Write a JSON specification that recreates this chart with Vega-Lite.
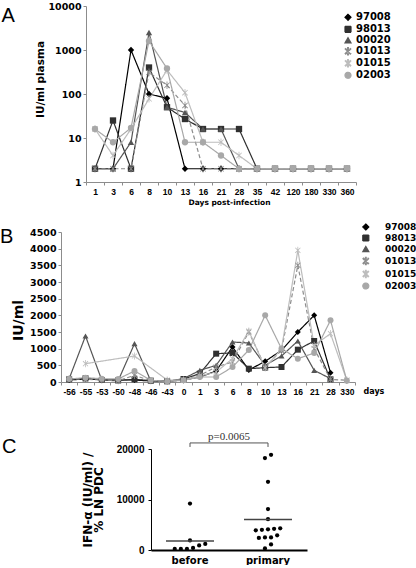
{
  "$schema": "https://vega.github.io/schema/vega-lite/v6.json",
  "background": "white",
  "padding": {"left": 0, "top": 1, "right": 0, "bottom": 0},
  "config": {
    "view": {"stroke": null},
    "font": "DejaVu Sans",
    "title": {"anchor": "start", "frame": "group", "font": "Liberation Sans", "fontSize": 20, "fontWeight": "normal", "color": "#000", "baseline": "top"},
    "axis": {"grid": false, "labelFont": "DejaVu Sans", "labelFontWeight": "bold", "labelColor": "#000", "titleFont": "DejaVu Sans", "titleFontWeight": "bold", "titleColor": "#000", "domainColor": "#8c8c8c", "tickColor": "#8c8c8c", "tickSize": 3, "labelFontSize": 9.5, "labelPadding": 2, "labelOverlap": false},
    "axisX": {"labelAngle": 0}
  },
  "datasets": {
    "a": [
      {"id":"97008","day":"1","v":2},{"id":"97008","day":"3","v":2},{"id":"97008","day":"6","v":1000},{"id":"97008","day":"8","v":100},{"id":"97008","day":"10","v":80},{"id":"97008","day":"13","v":2},{"id":"97008","day":"16","v":2},{"id":"97008","day":"21","v":2},{"id":"97008","day":"28","v":2},{"id":"97008","day":"35","v":2},{"id":"97008","day":"42","v":2},{"id":"97008","day":"120","v":2},{"id":"97008","day":"180","v":2},{"id":"97008","day":"330","v":2},{"id":"97008","day":"360","v":2},
      {"id":"98013","day":"1","v":2},{"id":"98013","day":"3","v":25},{"id":"98013","day":"6","v":2},{"id":"98013","day":"8","v":400},{"id":"98013","day":"10","v":50},{"id":"98013","day":"13","v":27},{"id":"98013","day":"16","v":16},{"id":"98013","day":"21","v":16},{"id":"98013","day":"28","v":16},{"id":"98013","day":"35","v":2},{"id":"98013","day":"42","v":2},{"id":"98013","day":"120","v":2},{"id":"98013","day":"180","v":2},{"id":"98013","day":"330","v":2},{"id":"98013","day":"360","v":2},
      {"id":"00020","day":"1","v":2},{"id":"00020","day":"3","v":2},{"id":"00020","day":"6","v":8},{"id":"00020","day":"8","v":2500},{"id":"00020","day":"10","v":50},{"id":"00020","day":"13","v":38},{"id":"00020","day":"16","v":16},{"id":"00020","day":"21","v":16},{"id":"00020","day":"28","v":2},{"id":"00020","day":"35","v":2},{"id":"00020","day":"42","v":2},{"id":"00020","day":"120","v":2},{"id":"00020","day":"180","v":2},{"id":"00020","day":"330","v":2},{"id":"00020","day":"360","v":2},
      {"id":"01013","day":"1","v":2},{"id":"01013","day":"3","v":2},{"id":"01013","day":"6","v":2},{"id":"01013","day":"8","v":310},{"id":"01013","day":"10","v":158},{"id":"01013","day":"13","v":55},{"id":"01013","day":"16","v":2},{"id":"01013","day":"21","v":2},{"id":"01013","day":"28","v":2},{"id":"01013","day":"35","v":2},{"id":"01013","day":"42","v":2},{"id":"01013","day":"120","v":2},{"id":"01013","day":"180","v":2},{"id":"01013","day":"330","v":2},{"id":"01013","day":"360","v":2},
      {"id":"01015","day":"1","v":16},{"id":"01015","day":"3","v":4},{"id":"01015","day":"6","v":16},{"id":"01015","day":"8","v":78},{"id":"01015","day":"10","v":350},{"id":"01015","day":"13","v":107},{"id":"01015","day":"16","v":8},{"id":"01015","day":"21","v":8},{"id":"01015","day":"28","v":4},{"id":"01015","day":"35","v":2},{"id":"01015","day":"42","v":2},{"id":"01015","day":"120","v":2},{"id":"01015","day":"180","v":2},{"id":"01015","day":"330","v":2},{"id":"01015","day":"360","v":2},
      {"id":"02003","day":"1","v":16},{"id":"02003","day":"3","v":8},{"id":"02003","day":"6","v":17},{"id":"02003","day":"8","v":1600},{"id":"02003","day":"10","v":380},{"id":"02003","day":"13","v":8},{"id":"02003","day":"16","v":8},{"id":"02003","day":"21","v":4},{"id":"02003","day":"28","v":2},{"id":"02003","day":"35","v":2},{"id":"02003","day":"42","v":2},{"id":"02003","day":"120","v":2},{"id":"02003","day":"180","v":2},{"id":"02003","day":"330","v":2},{"id":"02003","day":"360","v":2}
    ],
    "b": [
      {"id":"97008","day":"-56","v":60},{"id":"97008","day":"-55","v":90},{"id":"97008","day":"-53","v":70},{"id":"97008","day":"-50","v":60},{"id":"97008","day":"-48","v":60},{"id":"97008","day":"-46","v":30},{"id":"97008","day":"-43","v":20},{"id":"97008","day":"0","v":60},{"id":"97008","day":"1","v":150},{"id":"97008","day":"3","v":330},{"id":"97008","day":"6","v":1050},{"id":"97008","day":"8","v":360},{"id":"97008","day":"10","v":620},{"id":"97008","day":"13","v":950},{"id":"97008","day":"16","v":1500},{"id":"97008","day":"21","v":2000},{"id":"97008","day":"28","v":280},
      {"id":"98013","day":"-56","v":80},{"id":"98013","day":"-55","v":110},{"id":"98013","day":"-53","v":60},{"id":"98013","day":"-50","v":50},{"id":"98013","day":"-48","v":80},{"id":"98013","day":"-46","v":40},{"id":"98013","day":"-43","v":20},{"id":"98013","day":"0","v":90},{"id":"98013","day":"1","v":250},{"id":"98013","day":"3","v":850},{"id":"98013","day":"6","v":870},{"id":"98013","day":"8","v":400},{"id":"98013","day":"10","v":430},{"id":"98013","day":"13","v":450},{"id":"98013","day":"16","v":970},{"id":"98013","day":"21","v":1230},{"id":"98013","day":"28","v":80},
      {"id":"00020","day":"-56","v":100},{"id":"00020","day":"-55","v":1380},{"id":"00020","day":"-53","v":50},{"id":"00020","day":"-50","v":40},{"id":"00020","day":"-48","v":1150},{"id":"00020","day":"-46","v":30},{"id":"00020","day":"-43","v":20},{"id":"00020","day":"0","v":100},{"id":"00020","day":"1","v":350},{"id":"00020","day":"3","v":500},{"id":"00020","day":"6","v":1200},{"id":"00020","day":"8","v":1170},{"id":"00020","day":"10","v":500},{"id":"00020","day":"13","v":780},{"id":"00020","day":"16","v":1230},{"id":"00020","day":"21","v":350},{"id":"00020","day":"28","v":100},
      {"id":"01013","day":"-56","v":100},{"id":"01013","day":"-55","v":80},{"id":"01013","day":"-53","v":60},{"id":"01013","day":"-50","v":40},{"id":"01013","day":"-48","v":200},{"id":"01013","day":"-46","v":40},{"id":"01013","day":"-43","v":30},{"id":"01013","day":"0","v":60},{"id":"01013","day":"1","v":200},{"id":"01013","day":"3","v":450},{"id":"01013","day":"6","v":600},{"id":"01013","day":"8","v":1500},{"id":"01013","day":"10","v":450},{"id":"01013","day":"13","v":950},{"id":"01013","day":"16","v":3500},{"id":"01013","day":"21","v":1000},{"id":"01013","day":"28","v":80},{"id":"01013","day":"330","v":50},
      {"id":"01015","day":"-55","v":550},{"id":"01015","day":"-48","v":780},{"id":"01015","day":"-43","v":60},{"id":"01015","day":"0","v":50},{"id":"01015","day":"1","v":180},{"id":"01015","day":"3","v":300},{"id":"01015","day":"6","v":700},{"id":"01015","day":"8","v":1530},{"id":"01015","day":"10","v":420},{"id":"01015","day":"13","v":1000},{"id":"01015","day":"16","v":3950},{"id":"01015","day":"21","v":1100},{"id":"01015","day":"28","v":1450},{"id":"01015","day":"330","v":50},
      {"id":"02003","day":"-56","v":90},{"id":"02003","day":"-55","v":130},{"id":"02003","day":"-53","v":100},{"id":"02003","day":"-50","v":90},{"id":"02003","day":"-48","v":330},{"id":"02003","day":"-46","v":50},{"id":"02003","day":"-43","v":20},{"id":"02003","day":"0","v":50},{"id":"02003","day":"1","v":150},{"id":"02003","day":"3","v":150},{"id":"02003","day":"6","v":450},{"id":"02003","day":"8","v":960},{"id":"02003","day":"10","v":2000},{"id":"02003","day":"13","v":1000},{"id":"02003","day":"16","v":700},{"id":"02003","day":"21","v":870},{"id":"02003","day":"28","v":1850},{"id":"02003","day":"330","v":40}
    ],
    "c": [
      {"g":"before","v":9200},{"g":"before","v":1900},{"g":"before","v":900},{"g":"before","v":200},{"g":"before","v":200},{"g":"before","v":200},{"g":"before","v":400},{"g":"before","v":1200},
      {"g":"primary","v":18200},{"g":"primary","v":18850},{"g":"primary","v":13500},{"g":"primary","v":8100},{"g":"primary","v":6100},{"g":"primary","v":4300},{"g":"primary","v":4100},{"g":"primary","v":3900},{"g":"primary","v":4000},{"g":"primary","v":4200},{"g":"primary","v":2900},{"g":"primary","v":2500},{"g":"primary","v":2400},{"g":"primary","v":2500},{"g":"primary","v":1100},{"g":"primary","v":300}
    ]
  },
  "columns": 1,
  "align": "none",
  "spacing": 34,
  "resolve": {"scale": {"color": "independent", "shape": "independent", "strokeDash": "independent"}, "legend": {"color": "independent", "shape": "independent", "strokeDash": "independent"}},
  "concat": [
    {
      "columns": 1,
      "align": "none",
      "spacing": 16,
      "resolve": {"scale": {"color": "independent", "shape": "independent", "strokeDash": "independent"}, "legend": {"color": "independent", "shape": "independent", "strokeDash": "independent"}},
      "concat": [
        {
          "width": 295,
          "height": 176,
          "data": {"name": "a"},
          "title": {"text": "A", "dx": -59.5, "offset": -25},
          "encoding": {
            "x": {"field": "day", "type": "ordinal", "sort": ["1","3","6","8","10","13","16","21","28","35","42","120","180","330","360"], "scale": {"type": "band", "paddingInner": 0, "paddingOuter": 0, "range": [25, 295]},
                  "axis": {"title": "Days post-infection", "tickBand": "extent", "labelFont": "Liberation Sans", "labelFontSize": 8.5, "labelPadding": 2, "titleFontSize": 7.5, "titlePadding": 3, "titleX": 168}},
            "y": {"field": "v", "type": "quantitative", "scale": {"type": "log", "domain": [1, 10000], "nice": false},
                  "axis": {"offset": -25, "values": [1, 10, 100, 1000, 10000], "format": "d", "title": "IU/ml plasma", "titleFontSize": 10.5, "titlePadding": 2, "titleY": 73}},
            "color": {"field": "id", "type": "nominal", "scale": {"domain": ["97008","98013","00020","01013","01015","02003"], "range": ["#000000","#303030","#555555","#8c8c8c","#bdbdbd","#a8a8a8"]},
              "legend": {"title": null, "orient": "none", "legendX": 279, "legendY": 6.3, "direction": "vertical", "padding": 0, "symbolSize": 36, "rowPadding": 0, "symbolOffset": 3, "labelOffset": 3, "labelFontSize": 10, "labelFont": "DejaVu Sans", "labelFontWeight": "bold", "labelColor": "#000",
                "encode": {"symbols": {"update": {
                  "shape": {"signal": "datum.value=='97008'?'M-2,0L2,0M0,-1.1L1,0L0,1.1L-1,0Z':datum.value=='98013'?'M-2,0L2,0M-1,-1L1,-1L1,1L-1,1Z':datum.value=='00020'?'M-2,0L2,0M0,-1.2L1.1,0.8L-1.1,0.8Z':datum.value=='02003'?'M-2,0L2,0M1,0A1,1 0 1,1 -1,0A1,1 0 1,1 1,0Z':'M-2,0L2,0M0,-1.2L0,1.2M-0.9,-0.9L0.9,0.9M-0.9,0.9L0.9,-0.9'"},
                  "fill": {"signal": "datum.value=='97008'?'#000000':datum.value=='98013'?'#303030':datum.value=='00020'?'#555555':datum.value=='01013'?'#8c8c8c':datum.value=='01015'?'#bdbdbd':'#a8a8a8'"},
                  "stroke": {"signal": "datum.value=='97008'?'#000000':datum.value=='98013'?'#303030':datum.value=='00020'?'#555555':datum.value=='01013'?'#8c8c8c':datum.value=='01015'?'#bdbdbd':'#a8a8a8'"},
                  "strokeDash": {"signal": "datum.value=='01013'?[3,2]:[1,0]"},
                  "strokeWidth": {"value": 1.2},
                  "opacity": {"value": 1}
                }}}}}
          },
          "layer": [
            {"mark": {"type": "line", "strokeWidth": 1.2},
             "encoding": {"strokeDash": {"field": "id", "type": "nominal", "scale": {"domain": ["97008","98013","00020","01013","01015","02003"], "range": [[1,0],[1,0],[1,0],[4,2.5],[1,0],[1,0]]}, "legend": null}}},
            {"mark": {"type": "point", "filled": true, "opacity": 1, "size": 40},
             "encoding": {
               "shape": {"field": "id", "type": "nominal", "scale": {"domain": ["97008","98013","00020","01013","01015","02003"], "range": ["diamond","square","triangle-up","M-0.13,-1.2L0.13,-1.2L0.13,1.2L-0.13,1.2ZM-0.76,-0.94L0.94,0.76L0.76,0.94L-0.94,-0.76ZM-0.94,0.76L0.76,-0.94L0.94,-0.76L-0.76,0.94Z","M-0.13,-1.2L0.13,-1.2L0.13,1.2L-0.13,1.2ZM-0.76,-0.94L0.94,0.76L0.76,0.94L-0.94,-0.76ZM-0.94,0.76L0.76,-0.94L0.94,-0.76L-0.76,0.94Z","circle"]}, "legend": null}
             }}
          ]
        },
        {
          "width": 294,
          "height": 150,
          "data": {"name": "b"},
          "title": {"text": "B", "dx": -61, "offset": -24},
          "encoding": {
            "x": {"field": "day", "type": "ordinal", "sort": ["-56","-55","-53","-50","-48","-46","-43","0","1","3","6","8","10","13","16","21","28","330"], "scale": {"type": "band", "paddingInner": 0, "paddingOuter": 0},
                  "axis": {"title": "days", "tickBand": "extent", "labelFont": "Liberation Sans", "labelFontSize": 8.5, "labelPadding": 2, "titleFontSize": 8, "titleX": 302, "titleY": 9, "titleAlign": "left", "titleBaseline": "middle"}},
            "y": {"field": "v", "type": "quantitative", "scale": {"domain": [0, 4500], "nice": false},
                  "axis": {"values": [0,500,1000,1500,2000,2500,3000,3500,4000,4500], "format": "d", "title": "IU/ml", "titleFontSize": 14, "titlePadding": 4, "titleY": 88}},
            "color": {"field": "id", "type": "nominal", "scale": {"domain": ["97008","98013","00020","01013","01015","02003"], "range": ["#000000","#303030","#555555","#8c8c8c","#bdbdbd","#a8a8a8"]},
              "legend": {"title": null, "orient": "none", "legendX": 290.7, "legendY": -9.5, "direction": "vertical", "padding": 0, "symbolSize": 36, "rowPadding": 0, "symbolOffset": 9.6, "labelOffset": 14.7, "labelFontSize": 9, "labelFont": "DejaVu Sans", "labelFontWeight": "bold", "labelColor": "#000",
                "encode": {"symbols": {"update": {
                  "shape": {"signal": "datum.value=='97008'?'M-4.2,0L4.2,0M0,-1.1L1,0L0,1.1L-1,0Z':datum.value=='98013'?'M-4.2,0L4.2,0M-1,-1L1,-1L1,1L-1,1Z':datum.value=='00020'?'M-4.2,0L4.2,0M0,-1.2L1.1,0.8L-1.1,0.8Z':datum.value=='02003'?'M-4.2,0L4.2,0M1,0A1,1 0 1,1 -1,0A1,1 0 1,1 1,0Z':'M-4.2,0L4.2,0M0,-1.2L0,1.2M-0.9,-0.9L0.9,0.9M-0.9,0.9L0.9,-0.9'"},
                  "fill": {"signal": "datum.value=='97008'?'#000000':datum.value=='98013'?'#303030':datum.value=='00020'?'#555555':datum.value=='01013'?'#8c8c8c':datum.value=='01015'?'#bdbdbd':'#a8a8a8'"},
                  "stroke": {"signal": "datum.value=='97008'?'#000000':datum.value=='98013'?'#303030':datum.value=='00020'?'#555555':datum.value=='01013'?'#8c8c8c':datum.value=='01015'?'#bdbdbd':'#a8a8a8'"},
                  "strokeDash": {"signal": "datum.value=='01013'?[3,2]:[1,0]"},
                  "strokeWidth": {"value": 1.2},
                  "opacity": {"value": 1}
                }}}}}
          },
          "layer": [
            {"mark": {"type": "line", "strokeWidth": 1.2},
             "encoding": {"strokeDash": {"field": "id", "type": "nominal", "scale": {"domain": ["97008","98013","00020","01013","01015","02003"], "range": [[1,0],[1,0],[1,0],[4,2.5],[1,0],[1,0]]}, "legend": null}}},
            {"mark": {"type": "point", "filled": true, "opacity": 1, "size": 36},
             "encoding": {
               "shape": {"field": "id", "type": "nominal", "scale": {"domain": ["97008","98013","00020","01013","01015","02003"], "range": ["diamond","square","triangle-up","M-0.13,-1.2L0.13,-1.2L0.13,1.2L-0.13,1.2ZM-0.76,-0.94L0.94,0.76L0.76,0.94L-0.94,-0.76ZM-0.94,0.76L0.76,-0.94L0.94,-0.76L-0.76,0.94Z","M-0.13,-1.2L0.13,-1.2L0.13,1.2L-0.13,1.2ZM-0.76,-0.94L0.94,0.76L0.76,0.94L-0.94,-0.76ZM-0.94,0.76L0.76,-0.94L0.94,-0.76L-0.76,0.94Z","circle"]}, "legend": null}
             }}
          ]
        }
      ]
    },
    {
      "width": 246,
      "height": 101,
      "data": {"name": "c"},
      "title": {"text": "C", "dx": -59, "offset": -26},
      "encoding": {
        "x": {"field": "g", "type": "nominal", "scale": {"type": "band", "domain": ["before","primary"], "paddingInner": 0, "paddingOuter": 0, "range": [90, 246]},
              "axis": {"title": null, "ticks": false, "domainColor": "#000", "domainWidth": 2, "labelFontSize": 10, "labelPadding": 5}}
      },
      "layer": [
        {
          "transform": [
            {"calculate": "floor(datum.v/1500)", "as": "vband"},
            {"window": [{"op": "row_number", "as": "r"}, {"op": "count", "as": "n"}], "groupby": ["g", "vband"], "sort": [{"field": "v", "order": "ascending"}], "frame": [null, null]},
            {"calculate": "datum.r - (datum.n + 1) / 2", "as": "off"}
          ],
          "mark": {"type": "point", "filled": true, "opacity": 1, "color": "#000", "size": 18},
          "encoding": {
            "xOffset": {"field": "off", "type": "quantitative", "scale": {"domain": [-3, 3], "range": [20.7, 57.3]}},
            "y": {"field": "v", "type": "quantitative", "scale": {"domain": [0, 20000], "nice": false},
                  "axis": {"offset": -90, "values": [0,5000,10000,15000,20000], "format": "d", "title": ["IFN-α (IU/ml) /", "% LN PDC"], "titleFontSize": 12, "titleLineHeight": 11, "titlePadding": 11, "labelFont": "Liberation Sans", "labelFontSize": 10, "labelPadding": 4, "domainColor": "#000", "tickColor": "#000"}}
          }
        },
        {
          "mark": {"type": "tick", "color": "#444", "thickness": 1.5, "size": 48},
          "encoding": {"y": {"aggregate": "mean", "field": "v", "type": "quantitative"}}
        },
        {
          "transform": [{"aggregate": [{"op": "count", "as": "n"}], "groupby": ["g"]}],
          "mark": {"type": "rule", "color": "#555", "strokeWidth": 1},
          "encoding": {"y": {"datum": 21200}, "y2": {"datum": 20400}}
        },
        {
          "transform": [{"aggregate": [{"op": "count", "as": "n"}]}],
          "mark": {"type": "rule", "color": "#555", "strokeWidth": 1},
          "encoding": {"x": {"datum": "before"}, "x2": {"datum": "primary"}, "y": {"datum": 21200}}
        },
        {
          "transform": [{"aggregate": [{"op": "count", "as": "n"}]}],
          "mark": {"type": "text", "font": "Liberation Serif", "fontSize": 11, "color": "#333", "baseline": "bottom", "dy": -1},
          "encoding": {"x": {"datum": "before", "bandPosition": 1}, "y": {"datum": 21200}, "text": {"value": "p=0.0065"}}
        }
      ]
    }
  ]
}
